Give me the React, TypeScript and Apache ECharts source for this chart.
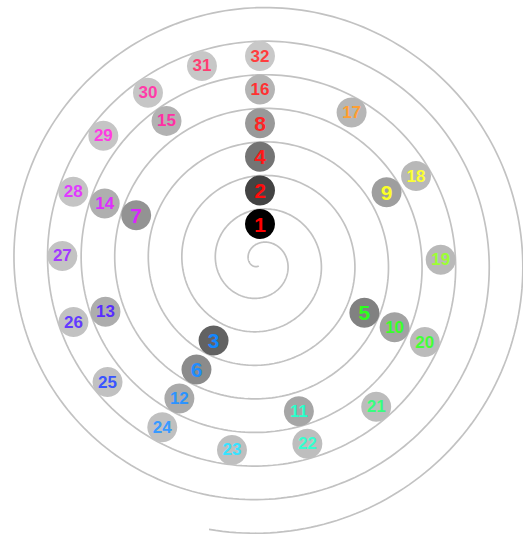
import React, { useEffect, useRef } from "react";
import * as echarts from "echarts";

// Numbers placed on the doubling spiral (one full turn per doubling)
const numbers = [
  1, 2, 3, 4, 5, 6, 7, 8, 9, 10, 11, 12, 13, 14, 15, 16,
  17, 18, 19, 20, 21, 22, 23, 24, 25, 26, 27, 28, 29, 30, 31, 32,
];

// Spiral guide: radius value = turn - offset, drawn from start turn to end turn
const spiralStartTurn = -0.45;
const spiralEndTurn = 7.53;
const spiralOffset = 0.56;

const RADIUS_MIN = -38 / 33.6;
const RADIUS_MAX = 7.5;

function shade(n: number): string {
  const d = Math.pow(n, -0.44);
  const g = Math.round(255 * (1 - d));
  return `rgb(${g},${g},${g})`;
}

function labelColor(n: number): string {
  const v = Math.log2(n);
  const hue = (v - Math.floor(v)) * 360;
  const l = 50 + 2.4 * v;
  return `hsl(${hue.toFixed(1)}, 100%, ${l.toFixed(1)}%)`;
}

export default function App() {
  const ref = useRef<HTMLDivElement>(null);

  useEffect(() => {
    if (!ref.current) return;
    const chart = echarts.init(ref.current, undefined, { renderer: "svg" });

    const scatterData = numbers.map((n) => {
      const v = Math.log2(n);
      return {
        name: String(n),
        value: [v, v - Math.floor(v)],
        itemStyle: { color: shade(n), opacity: 1 },
        label: {
          color: labelColor(n),
          fontSize: n < 10 ? 21 : 17,
        },
      };
    });

    chart.setOption({
      animation: false,
      backgroundColor: "#ffffff",
      polar: { center: [260, 262], radius: 33.6 * (RADIUS_MAX - RADIUS_MIN) },
      radiusAxis: {
        type: "value",
        min: RADIUS_MIN,
        max: RADIUS_MAX,
        show: false,
        axisLine: { show: false },
        axisTick: { show: false },
        axisLabel: { show: false },
        splitLine: { show: false },
      },
      angleAxis: {
        type: "value",
        min: 0,
        max: 1,
        startAngle: 90,
        clockwise: true,
        show: false,
        axisLine: { show: false },
        axisTick: { show: false },
        axisLabel: { show: false },
        splitLine: { show: false },
      },
      series: [
        {
          type: "custom",
          coordinateSystem: "polar",
          silent: true,
          data: [[0, 0]],
          renderItem: (_params: any, api: any) => {
            const pts: number[][] = [];
            for (let t = spiralStartTurn; t <= spiralEndTurn; t += 0.004) {
              const a = t - Math.floor(t);
              pts.push(api.coord([t - spiralOffset, a]));
            }
            return {
              type: "polyline",
              shape: { points: pts },
              style: { stroke: "#c2c2c2", lineWidth: 1.7, fill: "none" },
            };
          },
          z: 1,
        },
        {
          type: "scatter",
          coordinateSystem: "polar",
          symbol: "circle",
          symbolSize: 30,
          itemStyle: { opacity: 1 },
          data: scatterData,
          label: {
            show: true,
            position: "inside",
            formatter: "{b}",
            fontFamily: "'Liberation Sans', Arial, sans-serif",
            fontWeight: "bold",
          },
          z: 2,
        },
      ],
    });

    return () => chart.dispose();
  }, []);

  return (
    <div
      ref={ref}
      style={{ position: "absolute", left: 0, top: 0, width: 523, height: 543 }}
    />
  );
}
